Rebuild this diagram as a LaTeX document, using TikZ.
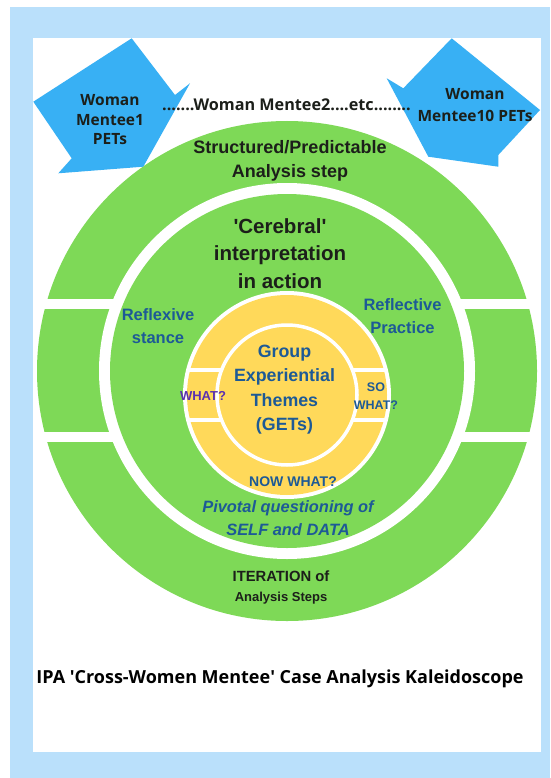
\documentclass[tikz,border=0pt]{standalone}
\usepackage{fontspec}
\setmainfont{Liberation Sans}
\newfontfamily\opensans{Open Sans}
\usepackage{xcolor}
\definecolor{colorPage}{HTML}{BAE0FB}
\definecolor{colorArrow}{HTML}{38B0F4}
\definecolor{colorRing}{HTML}{7ED957}
\definecolor{colorCore}{HTML}{FFD95A}
\definecolor{colorInk}{HTML}{1C1F1A}
\definecolor{colorBlueText}{HTML}{1D5A96}
\definecolor{colorQuestion}{HTML}{5B30B0}
\usetikzlibrary{positioning}
\tikzset{
  txtSize/.style 2 args={font=\bfseries\fontsize{#1}{#2}\selectfont},
  txtOpen/.style 2 args={font=\opensans\bfseries\fontsize{#1}{#2}\selectfont},
  inkText/.style={text=colorInk},
  blueText/.style={text=colorBlueText}
}

\begin{document}
\begin{tikzpicture}[x=1pt, y=-1pt, every node/.style={inner sep=0pt, align=center}]
\useasboundingbox (0,0) rectangle (550,778);
\fill[colorPage] (10,7) rectangle (550,778);
\fill[white] (33,38) rectangle (541,752);
% outer ring, gap, inner disk
\fill[colorRing] (287,371) circle[radius=250pt];
\fill[white] (287,371) circle[radius=188pt];
\fill[colorRing] (287,371) circle[radius=177pt];
\fill[white] (40,299) rectangle (115,309);
\fill[white] (40,432) rectangle (115,442);
\fill[white] (458,299) rectangle (535,309);
\fill[white] (458,432) rectangle (535,442);
% core
\fill[white] (287,395) circle[radius=104pt];
\fill[colorCore] (287,395) circle[radius=100pt];
\draw[white, line width=3.5pt] (287,395) circle[radius=70pt];
\fill[white] (188,368.3) rectangle (222,371.7);
\fill[white] (188,418.3) rectangle (222,421.7);
\fill[white] (352,368.3) rectangle (386,371.7);
\fill[white] (352,418.3) rectangle (386,421.7);
% arrows
\fill[colorArrow] (131.7,38.3) -- (175,95) -- (190,83.3) -- (143.3,166.7) -- (58.3,173.3) -- (71.7,158.3) -- (33.3,101.7) -- cycle;
\fill[colorArrow] (451.7,38.3) -- (403.3,88.3) -- (386.7,78.3) -- (428.3,156.7) -- (498.3,166.7) -- (498.3,155) -- (540,110) -- cycle;

\node[txtOpen={15.5}{19.3}, inkText, anchor=north] (menteeOne) at (110,94.6) {Woman\\Mentee1\\PETs};
\node[txtOpen={15.5}{22.4}, inkText, anchor=north] (menteeTen) at (475,88.2) {Woman\\Mentee10 PETs};
\node[txtOpen={16.2}{18}, inkText, anchor=base] (menteeTwo) at (286.5,111) {.......Woman Mentee2....etc........};
\node[txtSize={18}{24.5}, inkText, anchor=north] (stepTxt) at (290,140) {Structured/Predictable\\Analysis step};
\node[txtSize={20.5}{27.5}, inkText, anchor=north] (cerebral) at (280,218) {\textquotesingle Cerebral\textquotesingle\\interpretation\\in action};
\node[txtSize={16.5}{23}, blueText, anchor=north] (reflexive) at (158,308) {Reflexive\\stance};
\node[txtSize={16.5}{22.7}, blueText, anchor=north] (reflective) at (402.5,298.8) {Reflective\\Practice};
\node[txtSize={17.8}{24.5}, blueText, anchor=north] (gets) at (284.5,344.5) {Group\\Experiential\\Themes\\(GETs)};
\node[txtSize={13}{16}, text=colorQuestion, anchor=base] (what) at (203,400) {WHAT?};
\node[txtSize={12.5}{18.3}, blueText, anchor=north] (soWhat) at (376,382.7) {SO\\WHAT?};
\node[txtSize={14}{17}, blueText, anchor=base] (nowWhat) at (293,486.7) {NOW WHAT?};
\node[font=\bfseries\itshape\fontsize{16.4}{22.3}\selectfont, blueText, anchor=north] (pivotal) at (288,500.9) {Pivotal questioning of\\SELF and DATA};
\node[txtSize={14.8}{17}, inkText, anchor=base] (iterOne) at (281,581.7) {ITERATION of};
\node[txtSize={13}{16}, inkText, anchor=base] (iterTwo) at (281,601.7) {Analysis Steps};
\node[txtOpen={18}{22}, text=black, anchor=base] (title) at (280,683) {IPA \textquotesingle Cross-Women Mentee\textquotesingle{} Case Analysis Kaleidoscope};
\end{tikzpicture}
\end{document}
